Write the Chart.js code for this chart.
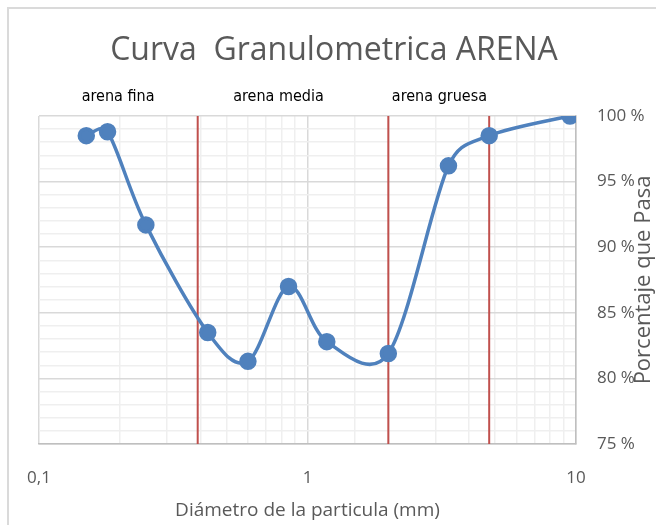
<!DOCTYPE html>
<html>
<head>
<meta charset="utf-8">
<script src="https://cdn.jsdelivr.net/npm/chart.js@4/dist/chart.umd.min.js"></script>
<style>
  html, body { margin: 0; padding: 0; background: #fff; }
  #marco { position: absolute; left: 0; top: 0; width: 656px; height: 525px; }
  #borde { position: absolute; left: 7px; top: 7px; width: 700px; height: 600px;
           border-left: 2px solid #dadada; border-top: 2px solid #dadada; }
</style>
</head>
<body>
<div id="marco">
  <div id="borde"></div>
  <canvas id="grafico" width="656" height="525"></canvas>
</div>
<script>
// Datos de la curva granulometrica (diametro en mm, % que pasa)
const diametros = [0.15, 0.18, 0.25, 0.425, 0.6, 0.85, 1.18, 2, 3.35, 4.75, 9.5];
const pasa = [98.5, 98.8, 91.7, 83.5, 81.3, 87.0, 82.8, 81.9, 96.2, 98.5, 100];

// Limites entre arenas (lineas rojas)
const limites = [0.39, 2, 4.75];

// Rotulos de cada zona y su posicion en el eje x
const zonas = ["arena fina", "arena media", "arena gruesa"];
const posZonas = [0.197, 0.78, 3.1];

const rangoY = [75, 100];

const titulo = "Curva  Granulometrica ARENA";
const tituloY = "Porcentaje que Pasa";

const puntos = diametros.map((d, i) => ({ x: d, y: pasa[i] }));

const datasets = [
  {
    label: "Curva",
    data: puntos,
    borderColor: "#4f81bd",
    backgroundColor: "#4f81bd",
    pointBackgroundColor: "#4f81bd",
    pointBorderColor: "#4f81bd",
    borderWidth: 3.5,
    pointRadius: 7,
    tension: 0.4,
    showLine: true,
    order: 0
  }
];

// Agregando las lineas rojas como series verticales
limites.forEach(l => {
  datasets.push({
    data: [{ x: l, y: rangoY[0] }, { x: l, y: rangoY[1] }],
    borderColor: "#c0504d",
    borderWidth: 2,
    pointRadius: 0,
    showLine: true,
    order: 1
  });
});

// Suavizado tipo Excel: puntos de control a 1/6 (Catmull-Rom uniforme),
// limitados a la mitad del tramo vecino
const suavizadoExcel = {
  id: "suavizadoExcel",
  beforeDatasetDraw(chart, args) {
    if (args.index !== 0) return;
    const meta = args.meta;
    const pts = meta.data;
    const n = pts.length;
    for (let i = 0; i < n; i++) {
      const p = pts[i];
      const prev = pts[Math.max(i - 1, 0)];
      const next = pts[Math.min(i + 1, n - 1)];
      const dx = (next.x - prev.x) / 6;
      const dy = (next.y - prev.y) / 6;
      const brazo = Math.hypot(dx, dy) || 1;
      const d01 = Math.hypot(p.x - prev.x, p.y - prev.y);
      const d12 = Math.hypot(next.x - p.x, next.y - p.y);
      const k1 = Math.min(1, (0.5 * d01) / brazo);
      const k2 = Math.min(1, (0.5 * d12) / brazo);
      p.cp1x = p.x - dx * k1;
      p.cp1y = p.y - dy * k1;
      p.cp2x = p.x + dx * k2;
      p.cp2y = p.y + dy * k2;
    }
    meta.dataset._pointsUpdated = true;
  }
};

// Textos extra: titulo, rotulos de zonas y titulo del eje y superpuesto
const textosExtra = {
  id: "textosExtra",
  afterDraw(chart) {
    const ctx = chart.ctx;
    const x = chart.scales.x;
    ctx.save();
    ctx.textAlign = "center";
    ctx.textBaseline = "middle";

    ctx.fillStyle = "#595959";
    ctx.font = "32px 'Open Sans', sans-serif";
    ctx.fillText(titulo, 334, 51);

    ctx.fillStyle = "#000";
    ctx.font = "16px 'Liberation Sans Narrow', 'DejaVu Sans Condensed', sans-serif";
    zonas.forEach((z, i) => {
      ctx.fillText(z, x.getPixelForValue(posZonas[i]), 97);
    });

    ctx.translate(644, 280);
    ctx.rotate(-Math.PI / 2);
    ctx.fillStyle = "#595959";
    ctx.font = "22px 'Open Sans', sans-serif";
    ctx.fillText(tituloY, 0, 0);
    ctx.restore();
  }
};

new Chart(document.getElementById("grafico"), {
  type: "scatter",
  data: { datasets: datasets },
  options: {
    responsive: false,
    animation: false,
    layout: { padding: { left: 39, right: 0, top: 116, bottom: 0 } },
    plugins: {
      legend: { display: false },
      tooltip: { enabled: false },
      title: { display: false }
    },
    scales: {
      x: {
        type: "logarithmic",
        min: 0.1,
        max: 10,
        border: { color: "#bfbfbf", width: 1.5 },
        grid: {
          color: c => {
            const v = c.tick ? c.tick.value : 0;
            const e = Math.log10(v);
            return Math.abs(e - Math.round(e)) < 1e-6 ? "#d9d9d9" : "#efefef";
          },
          lineWidth: 1.5,
          drawTicks: false
        },
        ticks: {
          autoSkip: false,
          maxRotation: 0,
          color: "#595959",
          padding: 24,
          font: { family: "'Open Sans', sans-serif", size: 17 },
          callback: v => {
            if (Math.abs(v - 0.1) < 1e-9) return "0,1";
            if (Math.abs(v - 1) < 1e-9) return "1";
            if (Math.abs(v - 10) < 1e-9) return "10";
            return "";
          }
        },
        title: {
          display: true,
          text: "Diámetro de la particula (mm)",
          color: "#595959",
          font: { family: "'Open Sans', sans-serif", size: 19 },
          padding: { top: 2, bottom: 3 }
        },
        afterFit: s => { s.height = 81; }
      },
      y: {
        position: "right",
        min: rangoY[0],
        max: rangoY[1],
        border: { color: "#bfbfbf", width: 1.5 },
        grid: {
          color: c => (c.tick && c.tick.value % 5 === 0 ? "#d9d9d9" : "#efefef"),
          lineWidth: 1.5,
          drawTicks: false
        },
        ticks: {
          stepSize: 1,
          autoSkip: false,
          color: "#595959",
          padding: 21,
          font: { family: "'Open Sans', sans-serif", size: 17 },
          callback: v => (v % 5 === 0 ? v + " %" : "")
        },
        afterFit: s => { s.width = 80; }
      }
    }
  },
  plugins: [suavizadoExcel, textosExtra]
});
</script>
</body>
</html>
